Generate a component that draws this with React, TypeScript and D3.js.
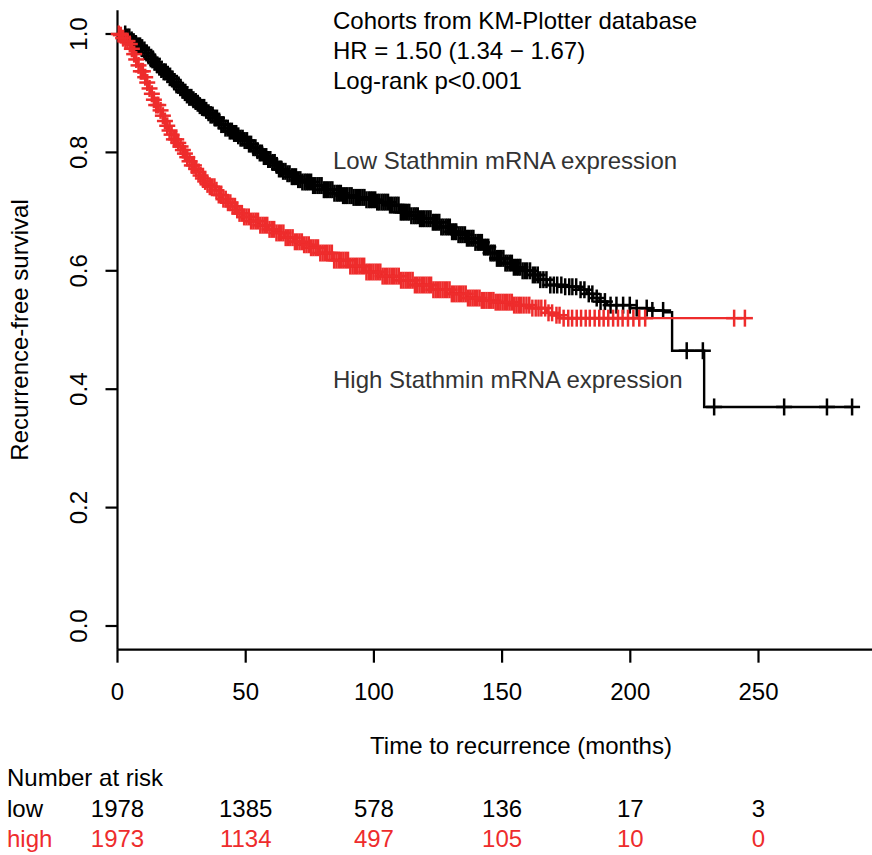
import React from 'react';
import * as d3 from 'd3';

// canvas + plot geometry
const W = 872, H = 855;
const FONT = 'Liberation Sans, Arial, Helvetica, sans-serif';
const RED = '#ee2c2c';

// axis ticks
const xTicks = [0, 50, 100, 150, 200, 250];
const yTicks = [0, 0.2, 0.4, 0.6, 0.8, 1.0];

// number at risk table
const riskLow = [1978, 1385, 578, 136, 17, 3];
const riskHigh = [1973, 1134, 497, 105, 10, 0];

// Kaplan-Meier steps, low Stathmin (black)
const lowTimes = [0, 3.5, 5, 6, 7, 8, 9, 10, 11, 12, 13, 14, 15, 16, 17, 18, 19, 20, 21, 22, 23, 24, 25, 26, 27, 28, 29, 30, 31, 32, 33, 34, 35, 36, 37.5, 39, 40.5, 42, 43.5, 45, 46.5, 48, 49.5, 51, 52.5, 54, 55.5, 57, 58.5, 60, 61.5, 63, 64.5, 66, 68, 70, 72, 76, 80, 84, 88, 92, 97, 101, 106, 110, 114, 118, 123, 126, 130, 133, 136, 139, 142.5, 145, 148, 151, 154, 157.5, 161, 164, 167.5, 174, 180, 183, 185.5, 188, 191, 200, 207, 213, 216.3, 228.8];
const lowSurv = [1.0, 0.995, 0.99, 0.987, 0.984, 0.98, 0.977, 0.973, 0.968, 0.963, 0.958, 0.953, 0.948, 0.944, 0.94, 0.936, 0.932, 0.929, 0.924, 0.919, 0.914, 0.91, 0.905, 0.901, 0.897, 0.893, 0.889, 0.886, 0.883, 0.879, 0.876, 0.871, 0.867, 0.863, 0.858, 0.853, 0.847, 0.841, 0.836, 0.832, 0.828, 0.824, 0.82, 0.814, 0.808, 0.803, 0.799, 0.793, 0.788, 0.783, 0.778, 0.772, 0.768, 0.764, 0.759, 0.754, 0.75, 0.744, 0.737, 0.731, 0.727, 0.724, 0.72, 0.716, 0.711, 0.699, 0.693, 0.688, 0.682, 0.674, 0.666, 0.661, 0.655, 0.648, 0.64, 0.63, 0.621, 0.613, 0.606, 0.6, 0.593, 0.585, 0.576, 0.573, 0.568, 0.561, 0.554, 0.548, 0.542, 0.537, 0.533, 0.53, 0.465, 0.37];
const lowCensor = [3.0, 3.8, 4.6, 5.5, 6.3, 7.1, 8.0, 8.8, 9.6, 10.5, 11.3, 12.1, 13.0, 13.8, 14.6, 15.5, 16.3, 17.1, 18.0, 18.8, 19.6, 20.5, 21.3, 22.1, 23.0, 23.8, 24.6, 25.5, 26.3, 27.1, 28.0, 28.8, 29.6, 30.5, 31.3, 32.1, 33.0, 33.8, 34.6, 35.5, 36.3, 37.1, 38.0, 38.8, 39.6, 40.5, 41.3, 42.1, 43.0, 43.8, 44.6, 45.5, 46.3, 47.1, 48.0, 48.8, 49.6, 50.5, 51.3, 52.1, 53.0, 53.8, 54.6, 55.5, 56.3, 57.1, 58.0, 58.8, 59.6, 60.5, 61.3, 62.1, 63.0, 63.8, 64.6, 65.5, 66.3, 67.1, 68.0, 68.8, 69.6, 70.5, 71.3, 72.1, 73.0, 73.8, 74.6, 75.5, 76.3, 77.1, 78.0, 78.8, 79.6, 80.5, 81.3, 82.1, 83.0, 83.8, 84.6, 85.5, 86.3, 87.1, 88.0, 88.8, 89.6, 90.5, 91.3, 92.1, 93.0, 93.8, 94.6, 95.5, 96.3, 97.1, 98.0, 98.8, 99.6, 100.5, 101.3, 102.1, 103.0, 103.8, 104.6, 105.5, 106.3, 107.1, 108.0, 108.8, 109.6, 110.5, 111.3, 112.1, 113.0, 113.8, 114.6, 115.5, 116.3, 117.1, 118.0, 118.8, 119.6, 120.5, 121.3, 122.1, 123.0, 123.8, 124.6, 125.5, 126.3, 127.1, 128.0, 128.8, 129.6, 130.5, 131.3, 132.1, 133.0, 133.8, 134.6, 135.5, 136.3, 137.1, 138.0, 138.8, 139.6, 140.5, 141.3, 142.1, 143.0, 143.8, 144.6, 145.5, 146.3, 147.1, 148.0, 148.8, 149.6, 150.5, 151.3, 152.1, 153.0, 153.8, 154.6, 155.5, 156.3, 157.1, 158.0, 158.9, 159.8, 160.9, 162.0, 162.9, 163.9, 164.9, 166.1, 167.3, 168.8, 170.2, 171.5, 173.1, 174.6, 176.2, 177.4, 178.9, 180.6, 182.1, 183.8, 185.2, 186.9, 188.4, 190.1, 192.3, 194.6, 197.2, 199.8, 202.5, 206.4, 208.6, 212.8, 222.0, 228.3, 232.7, 260.0, 276.7, 286.5];

// Kaplan-Meier steps, high Stathmin (red)
const highTimes = [0, 1, 2, 3, 4, 5, 6, 7, 8, 9, 10, 11, 12, 13, 14, 15, 16, 17, 18, 19, 20, 21, 22, 23, 24, 25, 26, 27, 28, 29, 30, 31, 32, 33, 34, 35, 36, 38, 39.5, 41, 43, 44.5, 46, 47.5, 49, 52, 55.5, 59, 62, 65, 68.5, 72, 75, 79, 84, 90, 97, 103, 110, 116, 123, 130, 136, 142, 147, 154, 161, 167.5, 170, 172.6];
const highSurv = [1.0, 0.998, 0.993, 0.988, 0.983, 0.975, 0.966, 0.957, 0.947, 0.937, 0.927, 0.918, 0.908, 0.899, 0.889, 0.88, 0.871, 0.862, 0.853, 0.845, 0.837, 0.83, 0.822, 0.816, 0.81, 0.804, 0.798, 0.792, 0.785, 0.778, 0.772, 0.767, 0.761, 0.756, 0.751, 0.746, 0.742, 0.736, 0.728, 0.721, 0.715, 0.709, 0.703, 0.697, 0.691, 0.684, 0.677, 0.67, 0.664, 0.656, 0.649, 0.644, 0.639, 0.63, 0.618, 0.608, 0.598, 0.591, 0.584, 0.576, 0.568, 0.561, 0.554, 0.55, 0.547, 0.542, 0.537, 0.529, 0.525, 0.52];
const highCensor = [0.5, 1.3, 2.2, 3.1, 3.9, 4.8, 5.6, 6.5, 7.3, 8.2, 9.1, 9.9, 10.8, 11.6, 12.5, 13.4, 14.2, 15.1, 15.9, 16.8, 17.7, 18.5, 19.4, 20.3, 21.1, 22.0, 22.9, 23.7, 24.6, 25.5, 26.3, 27.2, 28.1, 29.0, 29.8, 30.7, 31.6, 32.4, 33.3, 34.2, 35.1, 36.0, 36.9, 37.8, 38.6, 39.5, 40.4, 41.3, 42.2, 43.1, 44.0, 44.9, 45.8, 46.7, 47.6, 48.5, 49.4, 50.3, 51.2, 52.1, 53.0, 53.9, 54.8, 55.7, 56.6, 57.5, 58.4, 59.3, 60.2, 61.1, 62.0, 62.9, 63.8, 64.7, 65.6, 66.5, 67.4, 68.3, 69.2, 70.1, 71.0, 71.9, 72.8, 73.7, 74.6, 75.5, 76.4, 77.3, 78.2, 79.1, 80.0, 80.9, 81.8, 82.7, 83.6, 84.5, 85.4, 86.3, 87.2, 88.1, 89.0, 89.9, 90.8, 91.7, 92.6, 93.5, 94.4, 95.3, 96.2, 97.1, 98.0, 98.9, 99.8, 100.7, 101.6, 102.5, 103.4, 104.3, 105.2, 106.1, 107.0, 107.9, 108.8, 109.7, 110.6, 111.5, 112.4, 113.3, 114.2, 115.1, 116.0, 116.9, 117.8, 118.7, 119.6, 120.5, 121.4, 122.3, 123.2, 124.1, 125.0, 125.9, 126.8, 127.7, 128.6, 129.5, 130.4, 131.3, 132.2, 133.1, 134.0, 134.9, 135.8, 136.7, 137.6, 138.5, 139.4, 140.3, 141.2, 142.1, 143.0, 143.9, 144.8, 145.7, 146.6, 147.5, 148.4, 149.3, 150.2, 151.1, 152.0, 152.9, 153.8, 154.7, 155.6, 156.5, 157.4, 158.4, 159.5, 160.6, 161.8, 163.1, 164.2, 165.3, 166.8, 168.1, 169.5, 171.2, 172.4, 174.0, 175.8, 177.3, 179.1, 180.8, 182.6, 184.2, 186.1, 187.9, 189.6, 191.4, 193.3, 195.2, 197.0, 199.1, 201.2, 203.5, 205.8, 240.5, 244.7];

const x = d3.scaleLinear().domain([0, 250]).range([117.5, 758.5]);
const y = d3.scaleLinear().domain([0, 1]).range([626, 34]);

function survAt(times: number[], surv: number[], t: number) {
  const i = d3.bisectRight(times, t) - 1;
  return surv[Math.max(0, i)];
}

function App() {
  const svgRef = React.useRef<SVGSVGElement>(null);

  React.useEffect(() => {
    const svg = d3.select(svgRef.current);
    svg.selectAll('*').remove();
    const g = svg.append('g').attr('font-family', FONT).attr('font-size', 24);

    // axes (L shaped, R style)
    g.append('line').attr('x1', x(0)).attr('x2', x(0)).attr('y1', y(1.04)).attr('y2', y(-0.04))
      .attr('stroke', '#000').attr('stroke-width', 2.2);
    g.append('line').attr('x1', x(0)).attr('x2', W).attr('y1', y(-0.04)).attr('y2', y(-0.04))
      .attr('stroke', '#000').attr('stroke-width', 2.2);

    g.selectAll('.xt').data(xTicks).enter().append('line')
      .attr('x1', d => x(d)).attr('x2', d => x(d))
      .attr('y1', y(-0.04)).attr('y2', y(-0.04) + 13)
      .attr('stroke', '#000').attr('stroke-width', 2.2);
    g.selectAll('.xl').data(xTicks).enter().append('text')
      .attr('x', d => x(d)).attr('y', 700).attr('text-anchor', 'middle')
      .text(d => d);

    g.selectAll('.yt').data(yTicks).enter().append('line')
      .attr('x1', x(0) - 12).attr('x2', x(0))
      .attr('y1', d => y(d)).attr('y2', d => y(d))
      .attr('stroke', '#000').attr('stroke-width', 2.2);
    g.selectAll('.yl').data(yTicks).enter().append('text')
      .attr('transform', d => `translate(87,${y(d)}) rotate(-90)`)
      .attr('text-anchor', 'middle')
      .text(d => d3.format('.1f')(d));

    g.append('text').attr('transform', `translate(28,${y(0.5)}) rotate(-90)`)
      .attr('text-anchor', 'middle').text('Recurrence-free survival');
    g.append('text').attr('x', 521).attr('y', 754).attr('text-anchor', 'middle')
      .text('Time to recurrence (months)');

    // curves
    const line = d3.line<[number, number]>()
      .x(d => x(d[0])).y(d => y(d[1]))
      .curve(d3.curveStepAfter);

    const groups = [
      { times: lowTimes, surv: lowSurv, censor: lowCensor, color: '#000' },
      { times: highTimes, surv: highSurv, censor: highCensor, color: RED },
    ];

    groups.forEach(grp => {
      const end = grp.censor[grp.censor.length - 1];
      const pts: [number, number][] = grp.times.map((t, i) => [t, grp.surv[i]]);
      pts.push([end, survAt(grp.times, grp.surv, end)]);
      g.append('path').attr('d', line(pts)).attr('fill', 'none')
        .attr('stroke', grp.color).attr('stroke-width', 2.4);

      const marks = g.append('g').attr('stroke', grp.color).attr('stroke-width', 2.5);
      grp.censor.forEach(t => {
        const cx = x(t), cy = y(survAt(grp.times, grp.surv, t));
        marks.append('line').attr('x1', cx).attr('x2', cx).attr('y1', cy - 8.5).attr('y2', cy + 8.5);
        marks.append('line').attr('x1', cx - 8).attr('x2', cx + 8).attr('y1', cy).attr('y2', cy);
      });
    });

    // annotations
    const notes = ['Cohorts from KM-Plotter database', 'HR = 1.50 (1.34 \u2212 1.67)', 'Log-rank p<0.001'];
    notes.forEach((s, i) => {
      g.append('text').attr('x', 333).attr('y', 29 + i * 30).attr('fill', '#000').text(s);
    });
    g.append('text').attr('x', 333).attr('y', 169).attr('fill', '#333').text('Low Stathmin mRNA expression');
    g.append('text').attr('x', 333).attr('y', 388).attr('fill', '#333').text('High Stathmin mRNA expression');

    // number at risk
    g.append('text').attr('x', 7).attr('y', 786).text('Number at risk');
    g.append('text').attr('x', 7).attr('y', 817).text('low');
    g.append('text').attr('x', 7).attr('y', 847).attr('fill', RED).text('high');
    g.selectAll('.rl').data(riskLow).enter().append('text')
      .attr('x', (d, i) => x(xTicks[i])).attr('y', 817).attr('text-anchor', 'middle').text(d => d);
    g.selectAll('.rh').data(riskHigh).enter().append('text')
      .attr('x', (d, i) => x(xTicks[i])).attr('y', 847).attr('text-anchor', 'middle')
      .attr('fill', RED).text(d => d);
  }, []);

  return (
    <svg ref={svgRef} width={W} height={H}
      style={{ position: 'absolute', left: 0, top: 0, background: '#fff' }} />
  );
}

export default App;
